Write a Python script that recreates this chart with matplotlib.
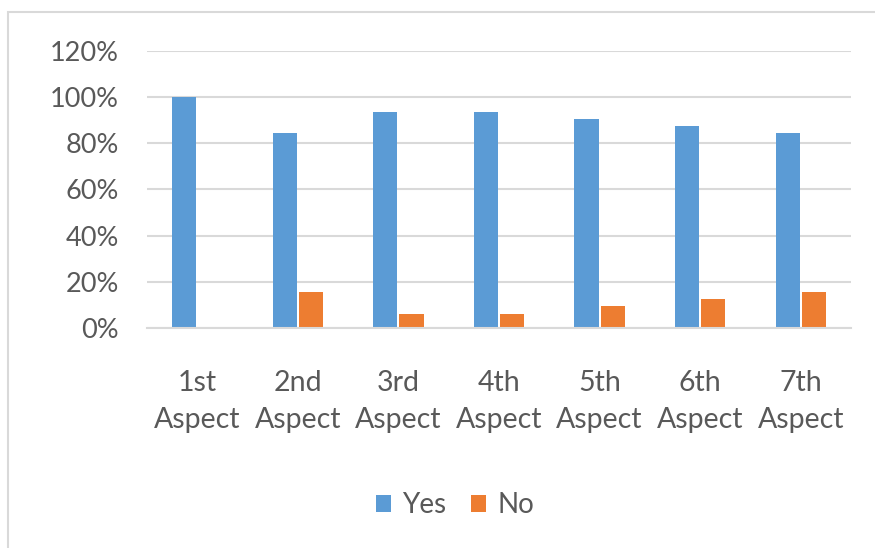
import matplotlib.pyplot as plt
import numpy as np
from matplotlib.patches import Rectangle
from matplotlib.ticker import PercentFormatter

# share of answers per aspect
categories = ['1st\nAspect', '2nd\nAspect', '3rd\nAspect', '4th\nAspect',
              '5th\nAspect', '6th\nAspect', '7th\nAspect']
yes = [1.0, 0.844, 0.9375, 0.9375, 0.906, 0.875, 0.844]
no = [0.0, 0.156, 0.0625, 0.0625, 0.094, 0.125, 0.156]

plt.rcParams['font.family'] = ['Lato', 'DejaVu Sans']
txt = '#595959'
grid = '#d9d9d9'

fig = plt.figure(figsize=(8.75, 5.48), dpi=100)
# outer chart border like the Excel chart area
fig.patches.append(Rectangle((8 / 875, -0.05), 1.0, 1 - 12 / 548 + 0.05,
                             transform=fig.transFigure, fill=False,
                             edgecolor=grid, linewidth=1.5))

ax = fig.add_axes([147 / 875, (548 - 328) / 548, 704 / 875, 277 / 548])

x = np.arange(len(categories))
w = 0.24
ax.bar(x - w / 2 - 0.01, yes, w, color='#5b9bd5', label='Yes')
ax.bar(x + w / 2 + 0.01, no, w, color='#ed7d31', label='No')

ax.set_xlim(-0.5, len(categories) - 0.5)
ax.set_ylim(0, 1.2)
ax.set_yticks(np.arange(0, 1.21, 0.2))
ax.yaxis.set_major_formatter(PercentFormatter(1.0, decimals=0))
ax.set_xticks(x)
ax.set_xticklabels(categories, linespacing=1.55, fontsize=20.5)

ax.grid(axis='y', color=grid, linewidth=1.5)
ax.set_axisbelow(True)
for s in ['top', 'right', 'left']:
    ax.spines[s].set_visible(False)
ax.spines['bottom'].set_color(grid)
ax.spines['bottom'].set_linewidth(1.5)
ax.tick_params(axis='both', length=0, colors=txt)
ax.tick_params(axis='y', pad=20, labelsize=19.5)
ax.tick_params(axis='x', pad=30)

ax.legend(loc='center', bbox_to_anchor=(455 / 875, (548 - 505) / 548),
          bbox_transform=fig.transFigure, ncol=2, frameon=False,
          fontsize=20, labelcolor=txt, handlelength=0.55, handleheight=0.55,
          handletextpad=0.4, columnspacing=0.9)

fig.savefig('out.png', dpi=100)
